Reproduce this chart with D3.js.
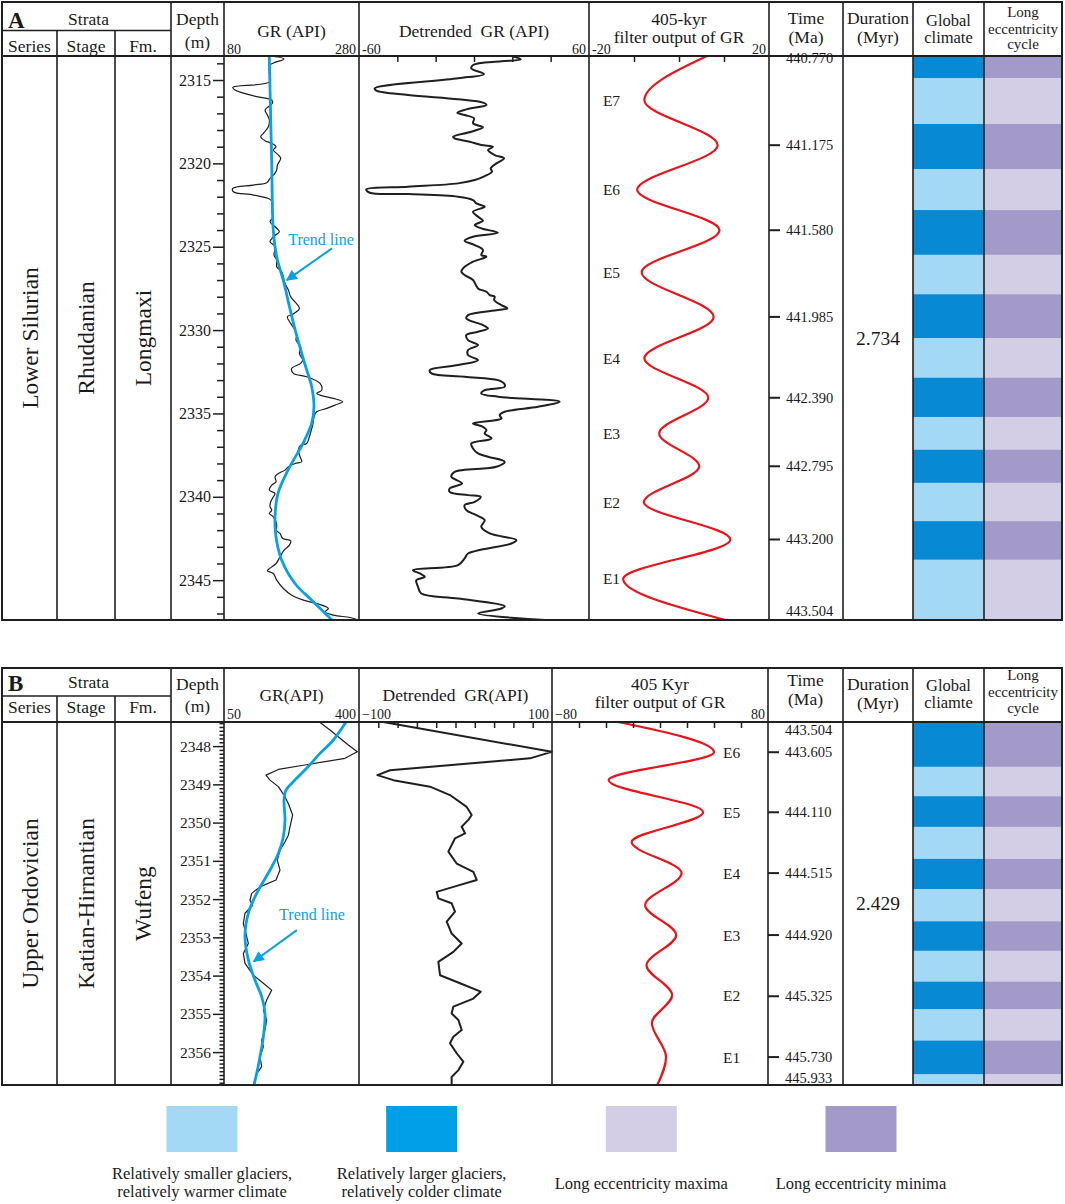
<!DOCTYPE html>
<html><head><meta charset="utf-8">
<script src="https://cdn.jsdelivr.net/npm/d3@7"></script>
<style>
body{margin:0;background:#fff}
svg text{font-family:"Liberation Serif","Times New Roman",serif;fill:#1a1a1a;white-space:pre}
</style></head><body>
<svg id="c" width="1065" height="1204"></svg>
<script>
// ===================== DATA =====================
// Panel A (Longmaxi) : [depth (m), value]
const grA = [[2313.56,147.2],[2313.74,169],[2314.1,148.2],[2314.6,147.2],[2315.1,148.2],[2315.44,92.9],[2315.6,96.3],[2316.0,128.4],[2316.2,150.7],[2316.4,151.7],[2316.6,145.7],[2316.8,140.8],[2317.1,144.2],[2317.4,147.2],[2317.8,145.7],[2318.2,138.3],[2318.4,134.4],[2318.64,140.8],[2318.8,150.7],[2319.0,157.1],[2319.2,153.1],[2319.5,160.6],[2319.7,164],[2320.1,159.1],[2320.4,158.1],[2320.64,154.6],[2320.9,148.2],[2321.16,143.3],[2321.3,123.5],[2321.5,92.9],[2321.7,93.9],[2321.9,123.5],[2322.16,148.2],[2322.4,152.2],[2322.8,150.7],[2323.2,153.1],[2323.5,148.2],[2323.8,155.6],[2324.1,162],[2324.4,153.1],[2324.7,148.2],[2325.0,155.6],[2325.5,154.1],[2325.8,158.1],[2326.2,158.1],[2326.5,165.5],[2327.2,170.4],[2327.6,175.4],[2328.0,178.8],[2328.7,191.7],[2329.0,183.8],[2329.2,173.9],[2329.6,178.8],[2330.0,185.3],[2330.3,187.7],[2330.6,186.7],[2331.0,193.6],[2331.4,191.7],[2331.8,196.6],[2332.0,193.6],[2332.3,180.3],[2332.6,182.8],[2332.8,202.5],[2333.2,222.3],[2333.6,224.8],[2333.8,217.4],[2333.9,222.3],[2334.1,242.1],[2334.3,255.9],[2334.5,244.5],[2334.7,232.2],[2334.9,217.4],[2335.2,213.4],[2335.7,211.4],[2335.9,210],[2336.4,206.5],[2336.8,202.5],[2336.9,193.6],[2337.2,190.2],[2337.6,192.7],[2337.9,195.1],[2338.0,185.3],[2338.2,175.4],[2338.4,170.4],[2338.6,160.6],[2338.8,155.6],[2339.1,157.1],[2339.3,150.7],[2339.6,147.2],[2339.8,155.6],[2340.0,153.1],[2340.3,149.2],[2340.6,148.2],[2340.8,150.7],[2341.0,147.2],[2341.2,153.1],[2341.5,157.1],[2341.8,158.1],[2342.0,157.1],[2342.2,163],[2342.5,167],[2342.64,178.8],[2342.9,176.9],[2343.2,169],[2343.6,163],[2344.0,157.1],[2344.36,145.7],[2344.44,144.2],[2344.6,153.1],[2345.0,158.1],[2345.5,168],[2345.9,180.3],[2346.2,197.6],[2346.4,217.4],[2346.7,234.7],[2346.9,229.7],[2347.1,242.1],[2347.24,266.8],[2347.39,279]];
const trendA = [[2313.56,147.1],[2320.0,150.7],[2324.0,153.0],[2325.6,158.1],[2327.2,169],[2328.6,177],[2330.0,185.5],[2332.0,199.5],[2333.4,209.9],[2334.6,213.3],[2335.6,209.9],[2336.8,197],[2338.4,174.8],[2339.8,160],[2341.2,155.6],[2342.4,157],[2343.8,165.5],[2345.2,185.2],[2346.2,209.9],[2347.39,240]];
const detA = [[2313.56,19.5],[2313.76,24.4],[2313.88,14.3],[2314.1,-0.5],[2314.3,-1.4],[2314.64,5.2],[2314.9,-8.3],[2315.5,-51.8],[2315.64,-50.9],[2315.9,-34.4],[2316.16,-8.3],[2316.36,4.7],[2316.5,6.5],[2316.76,-4],[2316.96,-8.7],[2317.1,-4.9],[2317.3,0],[2317.6,-0.5],[2317.84,4.7],[2318.1,-1.4],[2318.4,-10.9],[2318.5,-10.1],[2318.7,-2.2],[2318.9,3.8],[2319.0,9.9],[2319.2,7.3],[2319.5,10.8],[2319.7,15.7],[2320.0,11.7],[2320.3,8.7],[2320.5,9.4],[2320.76,5.6],[2321.0,0.4],[2321.2,-8.3],[2321.4,-34.4],[2321.56,-56.2],[2321.76,-54.4],[2321.84,-34.4],[2322.0,-8.3],[2322.2,-0.5],[2322.4,1.2],[2322.6,5.6],[2322.9,-0.5],[2323.2,2.1],[2323.44,4.7],[2323.7,0.4],[2323.9,3.8],[2324.16,12.5],[2324.4,-0.5],[2324.64,-4.9],[2324.9,0.4],[2325.2,4.7],[2325.5,3.8],[2325.6,6.5],[2325.9,-0.5],[2326.3,-5.7],[2326.5,-6.6],[2326.7,-4.9],[2327.0,-0.5],[2327.5,2.1],[2327.7,6.5],[2327.9,8.2],[2328.0,10.8],[2328.2,10.5],[2328.5,14.3],[2328.7,17.4],[2328.8,12.5],[2329.1,-3.1],[2329.3,-4],[2329.7,4.7],[2329.9,7.3],[2330.1,2.1],[2330.3,-4],[2330.6,-3.1],[2330.9,2.1],[2331.2,-3.1],[2331.5,-3.1],[2331.8,2.1],[2332.1,-8.3],[2332.4,-23.1],[2332.6,-22.2],[2332.8,-4.9],[2333.0,12.5],[2333.2,15.7],[2333.4,16],[2333.6,5.6],[2333.8,3.8],[2334.0,12.5],[2334.3,44.7],[2334.6,33.4],[2334.9,16],[2335.1,13.4],[2335.3,14.3],[2335.6,-0.5],[2335.8,4.7],[2336.0,6.5],[2336.2,5.6],[2336.5,9.1],[2336.8,-1.4],[2337.1,-0.5],[2337.4,2.1],[2337.6,7.3],[2337.9,16],[2338.2,11.7],[2338.5,-10.1],[2338.8,-11.8],[2339.2,-6.2],[2339.5,-12.7],[2339.7,-12.7],[2339.9,-3.1],[2340.0,3.5],[2340.3,0.4],[2340.5,-4.9],[2340.8,-4],[2341.1,1.2],[2341.4,5.6],[2341.8,3.8],[2342.2,8.2],[2342.6,22.1],[2342.8,19.5],[2343.4,-3.1],[2343.7,-4.9],[2344.1,-8.3],[2344.4,-31.8],[2344.6,-28.3],[2344.8,-25.7],[2345.0,-30.1],[2345.4,-29.2],[2345.8,-27.5],[2346.1,-8.3],[2346.56,16],[2346.7,14.3],[2347.0,2.1],[2347.39,37]];
const filtA = [[2313.56,6.2],[2316.21,-7.7],[2318.91,8.6],[2321.59,-9.3],[2324.01,9.0],[2326.53,-8.3],[2329.21,7.7],[2331.69,-7.7],[2334.06,6.5],[2336.20,-4.4],[2338.17,4.5],[2340.32,-7.8],[2342.56,11.4],[2344.93,-12.4],[2347.39,10.3]];
const eLabelsA = [["E7",2316.21],["E6",2321.59],["E5",2326.53],["E4",2331.69],["E3",2336.20],["E2",2340.32],["E1",2344.93]];
const timeA = [["440.770",2313.56,true],["441.175",2318.91,true],["441.580",2324.01,true],["441.985",2329.21,true],["442.390",2334.06,true],["442.795",2338.17,true],["443.200",2342.56,true],["443.504",2346.84,false]];
const bandEdgesA = [2313.56,2314.89,2317.64,2320.34,2322.80,2325.48,2327.85,2330.48,2332.86,2335.21,2337.18,2339.16,2341.46,2343.77,2347.39];
const depthMajorA = [2315,2320,2325,2330,2335,2340,2345];
const depthMinorA = [2314,2316,2317,2318,2319,2321,2322,2323,2324,2326,2327,2328,2329,2331,2332,2333,2334,2336,2337,2338,2339,2341,2342,2343,2344,2346,2347];
const detTicksA = [-40,-20,0,20,40];
const filtTicksA = [-10,0,10];
const scaleLabelsA = [["80","280"],["-60","60"],["-20","20"]];
const strataA = ["Lower Silurian","Rhuddanian","Longmaxi"];
const durationA = "2.734";
const trendNoteA = {text:[2324.9,223.7], from:[2325.1,240], to:[2327.0,173]};

// Panel B (Wufeng)
const grB = [[2347.37,297.2],[2347.58,324.8],[2347.97,372.4],[2348.15,395.7],[2348.32,363.7],[2348.50,255.7],[2348.61,190.9],[2348.76,158.9],[2348.89,169.3],[2349.06,190.9],[2349.28,205.6],[2349.50,216.8],[2349.80,228],[2350.11,221.1],[2350.33,216.8],[2350.50,208.2],[2350.72,195.2],[2350.98,188.3],[2351.24,195.2],[2351.50,184.8],[2351.68,143.3],[2351.85,121.7],[2352.03,117.4],[2352.16,124.3],[2352.37,104.4],[2352.64,100.1],[2352.90,107],[2353.16,113.1],[2353.42,100.1],[2353.68,104.4],[2353.99,126.1],[2354.20,152],[2354.38,173.6],[2354.64,160.6],[2354.90,152],[2355.16,160.6],[2355.42,156.3],[2355.69,147.7],[2355.86,152],[2356.12,143.3],[2356.38,147.7],[2356.56,134.7],[2356.86,126.1]];
const trendB = [[2347.37,366.3],[2347.84,333.5],[2348.19,298.9],[2348.58,264.3],[2348.93,229.8],[2349.15,210.7],[2349.41,205.6],[2349.93,208.2],[2350.37,203.8],[2350.81,190.9],[2351.24,169.3],[2351.85,134.7],[2352.37,113.1],[2352.98,104.4],[2353.59,113.1],[2354.12,130.4],[2354.55,147.7],[2354.99,156.3],[2355.60,152],[2356.12,143.3],[2356.56,134.7],[2356.86,127.8]];
const detB = [[2347.37,-74.8],[2348.15,99.7],[2348.32,77.2],[2348.63,-67.8],[2348.76,-81],[2348.89,-64.4],[2349.06,-26.4],[2349.28,-5.7],[2349.59,11.6],[2349.80,16.8],[2349.93,13.3],[2350.11,6.4],[2350.28,9.9],[2350.41,-0.5],[2350.76,-7.4],[2351.07,1.2],[2351.29,18.5],[2351.50,22],[2351.68,-2.2],[2351.81,-19.5],[2351.98,-17.8],[2352.11,-4],[2352.33,-0.5],[2352.59,-9.1],[2352.90,-4],[2353.16,6.4],[2353.38,-2.2],[2353.64,-17.8],[2353.99,-16],[2354.20,4.7],[2354.42,26.1],[2354.60,18.5],[2354.81,-2.2],[2354.99,-4],[2355.16,3],[2355.42,6.4],[2355.60,-2.2],[2355.77,-5.7],[2356.03,1.2],[2356.25,8.1],[2356.47,3],[2356.65,-4],[2356.86,-4]];
const filtB = [[2347.37,-31],[2348.16,40],[2348.89,-38],[2349.73,32],[2350.51,-21],[2351.32,16],[2352.16,-11],[2352.94,12],[2353.73,-10],[2354.51,9],[2355.24,-6],[2356.13,4.5],[2356.86,-2]];
const eLabelsB = [["E6",2348.16],["E5",2349.73],["E4",2351.32],["E3",2352.94],["E2",2354.51],["E1",2356.13]];
const timeB = [["443.504",2347.58,false],["443.605",2348.16,true],["444.110",2349.73,true],["444.515",2351.32,true],["444.920",2352.94,true],["445.325",2354.54,true],["445.730",2356.13,true],["445.933",2356.68,false]];
const bandEdgesB = [2347.37,2348.54,2349.31,2350.11,2350.95,2351.74,2352.58,2353.35,2354.16,2354.88,2355.70,2356.58,2356.86];
const depthMajorB = [2348,2349,2350,2351,2352,2353,2354,2355,2356];
const depthMinorB = d3.range(23474,23569).filter(v=>v%10!==0).map(v=>v/10);
const detTicksB = [-80,-60,-40,-20,0,20,40,60,80];
const filtTicksB = [-60,-40,-20,0,20,40,60];
const scaleLabelsB = [["50","400"],["\u2212100","100"],["\u221280","80"]];
const strataB = ["Upper Ordovician","Katian-Hirnantian","Wufeng"];
const durationB = "2.429";
const trendNoteB = {text:[2352.55,278], from:[2352.81,239], to:[2353.63,127]};

const legendItems = [
  {lines:["Relatively smaller glaciers,","relatively warmer climate"], color:"#a3d9f5"},
  {lines:["Relatively larger glaciers,","relatively colder climate"], color:"#00a0e9"},
  {lines:["Long eccentricity maxima"], color:"#d3cde6"},
  {lines:["Long eccentricity minima"], color:"#a49aca"}
];

// ===================== STYLE / LAYOUT =====================
const C = {ink:"#1f1f1f", blue:"#0aa0e4", red:"#e8141b",
  darkBlue:"#0789d4", lightBlue:"#a3d9f5", darkPurple:"#a49aca", lightPurple:"#d3cde6"};
const SANS = '"Liberation Sans", Arial, sans-serif';
const svg = d3.select("#c");
const defs = svg.append("defs");
defs.append("marker").attr("id","arr").attr("viewBox","0 0 10 10").attr("refX",9).attr("refY",5)
  .attr("markerWidth",6).attr("markerHeight",5.5).attr("markerUnits","strokeWidth").attr("orient","auto")
  .append("path").attr("d","M0,0 L10,5 L0,10 z").attr("fill",C.blue);

function panel(cfg){
  const X = cfg.cols;
  const g = svg.append("g");
  const y = d3.scaleLinear().domain([cfg.bandEdges[0], cfg.bandEdges[cfg.bandEdges.length-1]]).range([cfg.header, cfg.bottom]);
  const xG = d3.scaleLinear().domain(cfg.grDomain).range([X[4], X[5]]);
  const xD = d3.scaleLinear().domain(cfg.detDomain).range([X[5], X[6]]);
  const xF = d3.scaleLinear().domain(cfg.filtDomain).range([X[6], X[7]]);

  // climate and eccentricity bands
  const bands = d3.pairs(cfg.bandEdges).map(([a,b],i)=>({a,b,dark:i%2===0}));
  g.selectAll("rect.gc").data(bands).join("rect").attr("class","gc")
    .attr("x",X[9]).attr("width",X[10]-X[9]).attr("y",d=>y(d.a)).attr("height",d=>y(d.b)-y(d.a)+0.3)
    .attr("fill",d=>d.dark?C.darkBlue:C.lightBlue);
  g.selectAll("rect.ec").data(bands).join("rect").attr("class","ec")
    .attr("x",X[10]).attr("width",X[11]-X[10]).attr("y",d=>y(d.a)).attr("height",d=>y(d.b)-y(d.a)+0.3)
    .attr("fill",d=>d.dark?C.darkPurple:C.lightPurple);

  // curves
  const cid = "clip"+cfg.id;
  defs.append("clipPath").attr("id",cid).append("rect")
    .attr("x",X[4]).attr("y",cfg.header).attr("width",X[7]-X[4]).attr("height",cfg.bottom-cfg.header);
  const cg = g.append("g").attr("clip-path",`url(#${cid})`);
  const ln = xs => d3.line().x(d=>xs(d[1])).y(d=>y(d[0]));
  const smooth = d3.curveCatmullRom.alpha(0.5);
  const rawCurve = cfg.smoothRaw ? smooth : d3.curveLinear;
  cg.append("path").datum(cfg.gr).attr("d",ln(xG).curve(rawCurve)).attr("fill","none").attr("stroke",C.ink).attr("stroke-width",1.2).attr("stroke-linejoin","round");
  cg.append("path").datum(cfg.trend).attr("d",ln(xG).curve(smooth)).attr("fill","none").attr("stroke",C.blue).attr("stroke-width",2.8);
  cg.append("path").datum(cfg.det).attr("d",ln(xD).curve(rawCurve)).attr("fill","none").attr("stroke",C.ink).attr("stroke-width",2).attr("stroke-linejoin","round");
  cg.append("path").datum(cfg.filt).attr("d",ln(xF).curve(d3.curveMonotoneY)).attr("fill","none").attr("stroke",C.red).attr("stroke-width",2.2);

  // E labels
  g.selectAll("text.e").data(cfg.eLabels).join("text").attr("class","e")
    .attr("x",xF(cfg.eValue)).attr("y",d=>y(d[1])).attr("text-anchor","middle").attr("dominant-baseline","central")
    .attr("font-size",15.5).text(d=>d[0]);

  // trend annotation
  const tn = cfg.trendNote;
  g.append("text").attr("x",xG(tn.text[1])).attr("y",y(tn.text[0])).attr("text-anchor","middle")
    .attr("font-size",16).style("fill",C.blue).text("Trend line");
  g.append("line").attr("x1",xG(tn.from[1])).attr("y1",y(tn.from[0])).attr("x2",xG(tn.to[1])).attr("y2",y(tn.to[0]))
    .attr("stroke",C.blue).attr("stroke-width",2).attr("marker-end","url(#arr)");

  // frame lines
  const L = (x1,y1,x2,y2,w)=>g.append("line").attr("x1",x1).attr("y1",y1).attr("x2",x2).attr("y2",y2).attr("stroke",C.ink).attr("stroke-width",w||1.6);
  L(X[0],cfg.header,X[11],cfg.header,1.8);
  L(X[0],cfg.row,X[3],cfg.row);
  [X[1],X[2]].forEach(x=>L(x,cfg.row,x,cfg.bottom));
  X.slice(3,11).forEach(x=>L(x,cfg.top,x,cfg.bottom));
  g.append("rect").attr("x",X[0]).attr("y",cfg.top).attr("width",X[11]-X[0]).attr("height",cfg.bottom-cfg.top)
    .attr("fill","none").attr("stroke",C.ink).attr("stroke-width",2);

  // depth axis
  const styleAxis = s=>{ s.select(".domain").remove(); s.selectAll("line").attr("stroke",C.ink).attr("stroke-width",1.5);
    s.selectAll("text").attr("font-family",null).attr("font-size",cfg.depthFont).style("fill","#1a1a1a"); };
  g.append("g").attr("transform",`translate(${X[4]},0)`)
    .call(d3.axisLeft(y).tickValues(cfg.depthMinor).tickSize(cfg.minorLen).tickFormat("")).call(styleAxis);
  g.append("g").attr("transform",`translate(${X[4]},0)`)
    .call(d3.axisLeft(y).tickValues(cfg.depthMajor).tickSize(11).tickPadding(2).tickFormat(d3.format("d"))).call(styleAxis);

  // top ticks on detrended / filter tracks
  g.append("g").attr("transform",`translate(0,${cfg.header})`)
    .call(d3.axisBottom(xD).tickValues(cfg.detTicks).tickSize(6).tickFormat("")).call(styleAxis);
  g.append("g").attr("transform",`translate(0,${cfg.header})`)
    .call(d3.axisBottom(xF).tickValues(cfg.filtTicks).tickSize(6).tickFormat("")).call(styleAxis);

  // scale end labels
  [xG,xD,xF].forEach((s,i)=>{
    const r = s.range();
    g.append("text").attr("x",r[0]+3).attr("y",cfg.top+cfg.hy.scale).attr("font-size",14).text(cfg.scaleLabels[i][0]);
    g.append("text").attr("x",r[1]-3).attr("y",cfg.top+cfg.hy.scale).attr("font-size",14).attr("text-anchor","end").text(cfg.scaleLabels[i][1]);
  });

  // time axis
  const tt = cfg.time;
  g.selectAll("line.tt").data(tt.filter(d=>d[2])).join("line").attr("class","tt")
    .attr("x1",X[7]).attr("x2",X[7]+11).attr("y1",d=>y(d[1])).attr("y2",d=>y(d[1]))
    .attr("stroke",C.ink).attr("stroke-width",2);
  g.selectAll("text.tt").data(tt).join("text").attr("class","tt")
    .attr("x",X[7]+17).attr("y",(d,i)=>y(d[1])+(i===0&&d[2]?2:0)).attr("dominant-baseline","central")
    .attr("font-size",14.5).text(d=>d[0]);

  // strata labels
  cfg.strata.forEach((t,i)=>{
    const cx=(X[i]+X[i+1])/2, cy=(cfg.header+cfg.bottom)/2;
    g.append("text").attr("transform",`translate(${cx},${cy}) rotate(-90)`).attr("text-anchor","middle")
      .attr("dominant-baseline","central").attr("font-size",23.5).text(t);
  });
  // duration
  g.append("text").attr("x",(X[8]+X[9])/2).attr("y",(cfg.header+cfg.bottom)/2).attr("text-anchor","middle")
    .attr("dominant-baseline","central").attr("font-size",19.5).text(cfg.duration);

  // header texts
  const T=(x,dy,txt,size,anchor)=>g.append("text").attr("x",x).attr("y",cfg.top+dy).attr("font-size",size||17.5)
    .attr("text-anchor",anchor||"middle").text(txt);
  const mid=(a,b)=>(X[a]+X[b])/2;
  g.append("text").attr("x",X[0]+6).attr("y",cfg.top+cfg.hy.letter).attr("font-size",23).attr("font-weight","bold")
    .attr("font-family",SANS).text(cfg.letter);
  T(mid(0,3)+2,cfg.hy.strata,"Strata");
  T(mid(0,1),cfg.hy.row2,"Series"); T(mid(1,2),cfg.hy.row2,"Stage"); T(mid(2,3),cfg.hy.row2,"Fm.");
  T(mid(3,4),cfg.hy.depth1,"Depth"); T(mid(3,4),cfg.hy.depth2,"(m)");
  T(mid(4,5),cfg.hy.gr,cfg.grTitle); T(mid(5,6),cfg.hy.gr,cfg.detTitle);
  T(mid(6,7),cfg.hy.f1,cfg.filtTitle[0]); T(mid(6,7),cfg.hy.f2,cfg.filtTitle[1]);
  T(mid(7,8),cfg.hy.t1,"Time"); T(mid(7,8),cfg.hy.t2,"(Ma)");
  T(mid(8,9),cfg.hy.d1,"Duration"); T(mid(8,9),cfg.hy.d2,"(Myr)");
  T(mid(9,10),cfg.hy.g1,"Global",16.5); T(mid(9,10),cfg.hy.g2,cfg.climateWord,16.5);
  T(mid(10,11),cfg.hy.l1,"Long",15); T(mid(10,11),cfg.hy.l2,"eccentricity",15); T(mid(10,11),cfg.hy.l3,"cycle",15);
}

panel({id:"A", letter:"A", top:2, row:30.5, header:56, bottom:620, smoothRaw:true,
  cols:[2,57,115,171,224,359,589,769,843,913,984,1062],
  gr:grA, trend:trendA, det:detA, filt:filtA, eLabels:eLabelsA, eValue:-15, time:timeA,
  bandEdges:bandEdgesA, depthMajor:depthMajorA, depthMinor:depthMinorA, minorLen:7, depthFont:16,
  detTicks:detTicksA, filtTicks:filtTicksA, scaleLabels:scaleLabelsA, strata:strataA, duration:durationA,
  trendNote:trendNoteA, grDomain:[80,280], detDomain:[-60,60], filtDomain:[-20,20],
  grTitle:"GR (API)", detTitle:"Detrended\u00a0 GR (API)", filtTitle:["405-kyr","filter output of GR"], climateWord:"climate",
  hy:{letter:26, strata:23, row2:50, depth1:23, depth2:46, gr:35, f1:23, f2:41, t1:22, t2:41, d1:22, d2:41, g1:24, g2:41, l1:15, l2:32, l3:47, scale:52}
});
panel({id:"B", letter:"B", top:668, row:696, header:722, bottom:1085, smoothRaw:false,
  cols:[2,57,115,171,224,359,552,768,843,913,984,1062],
  gr:grB, trend:trendB, det:detB, filt:filtB, eLabels:eLabelsB, eValue:53, time:timeB,
  bandEdges:bandEdgesB, depthMajor:depthMajorB, depthMinor:depthMinorB, minorLen:4.5, depthFont:15.5,
  detTicks:detTicksB, filtTicks:filtTicksB, scaleLabels:scaleLabelsB, strata:strataB, duration:durationB,
  trendNote:trendNoteB, grDomain:[50,400], detDomain:[-100,100], filtDomain:[-80,80],
  grTitle:"GR(API)", detTitle:"Detrended\u00a0 GR(API)", filtTitle:["405 Kyr","filter output of GR"], climateWord:"cliamte",
  hy:{letter:23, strata:20, row2:45, depth1:22, depth2:44, gr:33, f1:22, f2:40, t1:18, t2:37, d1:22, d2:41, g1:23, g2:40, l1:12, l2:29, l3:45, scale:51}
});

// legend
const lx = d3.scalePoint().domain(legendItems.map((d,i)=>i)).range([202,861]);
const lg = svg.append("g");
lg.selectAll("rect").data(legendItems).join("rect")
  .attr("x",(d,i)=>lx(i)-35.5).attr("y",1106).attr("width",71).attr("height",46).attr("fill",d=>d.color);
legendItems.forEach((d,i)=>{
  const base = d.lines.length===2 ? 1179 : 1189;
  d.lines.forEach((t,j)=>lg.append("text").attr("x",lx(i)).attr("y",base+j*18).attr("text-anchor","middle")
    .attr("font-size",16.5).text(t));
});
</script></body></html>
